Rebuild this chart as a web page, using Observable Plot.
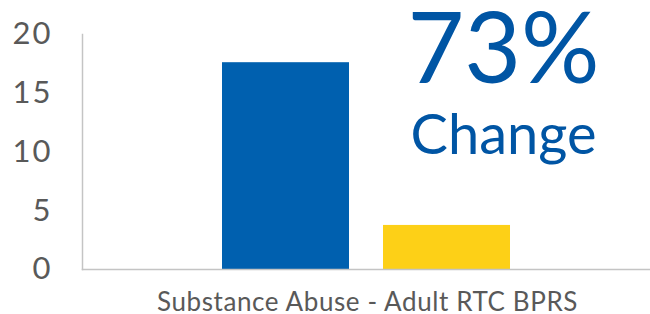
<!DOCTYPE html>
<html>
<head>
<meta charset="utf-8">
<script src="https://cdn.jsdelivr.net/npm/d3@7"></script>
<script src="https://cdn.jsdelivr.net/npm/@observablehq/plot@0.6"></script>
<style>
  html, body { margin: 0; padding: 0; background: #fff; }
  #chart svg { display: block; }
  #chart g[aria-label="y-axis tick label"] text { letter-spacing: 2px; }
  #chart g.cat-label text { letter-spacing: 0.6px; }
</style>
</head>
<body>
<div id="chart"></div>
<script>
const categories = ["Substance Abuse - Adult RTC BPRS"];
const series = ["Before", "After"];
const values = [17.6, 3.75];
const seriesColors = ["#0060AF", "#FDD017"];
const yTicks = [0, 5, 10, 15, 20];
const changePercent = "73%";
const changeWord = "Change";

const data = series.map((s, i) => ({category: categories[0], series: s, value: values[i]}));

const chart = Plot.plot({
  width: 650,
  height: 314,
  marginLeft: 82,
  marginRight: 0,
  marginTop: 34,
  marginBottom: 45,
  style: {fontFamily: "Lato, sans-serif", color: "#595959", background: "#fff"},
  x: {domain: series, paddingInner: 0.21, paddingOuter: 0.86, axis: null},
  y: {domain: [0, 20], label: null},
  color: {domain: series, range: seriesColors},
  marks: [
    Plot.barY(data, {x: "series", y: "value", fill: "series"}),
    Plot.frame({anchor: "bottom", stroke: "#c4c4c4", strokeWidth: 1.5}),
    Plot.frame({anchor: "left", stroke: "#c4c4c4", strokeWidth: 1.5}),
    Plot.axisY({ticks: yTicks, tickSize: 0, tickPadding: 30, fontSize: 31, fill: "#595959", label: null}),
    Plot.text(categories, {frameAnchor: "bottom", text: d => d, dx: 1, dy: 33, lineAnchor: "middle", fontSize: 26, fill: "#595959", className: "cat-label"}),
    Plot.text([changePercent], {frameAnchor: "top", text: d => d, dx: 137, dy: 17, lineAnchor: "middle", fontSize: 98, fill: "#0055A4"}),
    Plot.text([changeWord], {frameAnchor: "top", text: d => d, dx: 137, dy: 102, lineAnchor: "middle", fontSize: 56, fill: "#0055A4"})
  ]
});
document.getElementById("chart").appendChild(chart);
</script>
</body>
</html>
